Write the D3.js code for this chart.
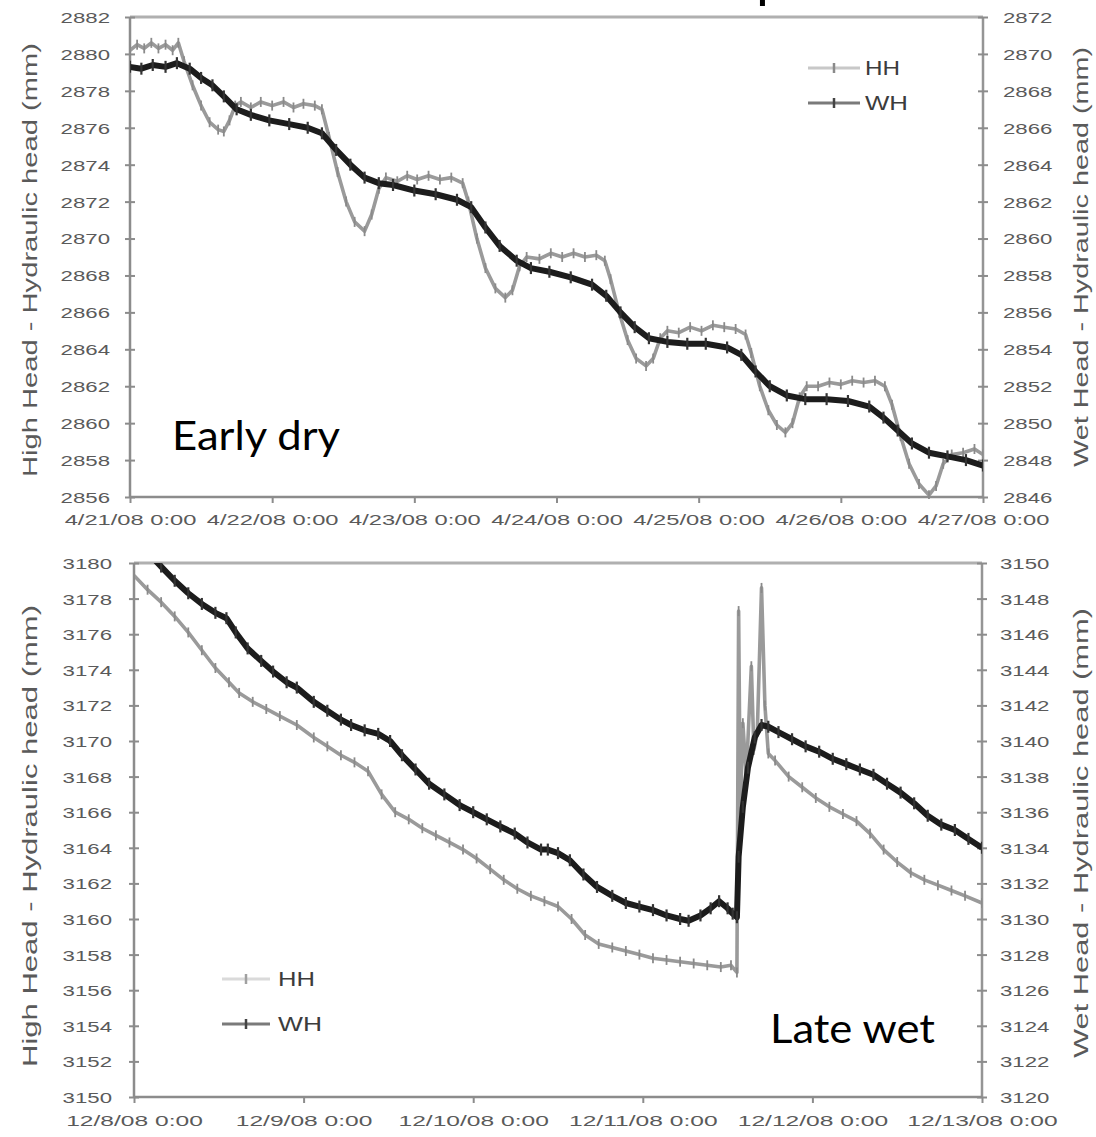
<!DOCTYPE html>
<html><head><meta charset="utf-8">
<script src="https://cdn.jsdelivr.net/npm/d3@7"></script>
<style>body{margin:0;background:#fff}svg{display:block}</style>
</head><body>
<svg id="chart" width="1096" height="1137"></svg>
<script>
// ---------- DATA (days since panel start, value) ----------
const earlyStart = [2008, 3, 21];   // 4/21/08
const lateStart = [2008, 11, 8];    // 12/8/08
const earlyDayTicks = [0, 1, 2, 3, 4, 5, 6];
const lateDayTicks = [0, 1, 2, 3, 4, 5];
const earlyLeftTicks = [2856, 2858, 2860, 2862, 2864, 2866, 2868, 2870, 2872, 2874, 2876, 2878, 2880, 2882];
const earlyRightTicks = [2846, 2848, 2850, 2852, 2854, 2856, 2858, 2860, 2862, 2864, 2866, 2868, 2870, 2872];
const lateLeftTicks = [3150, 3152, 3154, 3156, 3158, 3160, 3162, 3164, 3166, 3168, 3170, 3172, 3174, 3176, 3178, 3180];
const lateRightTicks = [3120, 3122, 3124, 3126, 3128, 3130, 3132, 3134, 3136, 3138, 3140, 3142, 3144, 3146, 3148, 3150];
const seriesNames = ["HH", "WH"];
const panelLabels = ["Early dry", "Late wet"];
const leftTitle = "High Head - Hydraulic head (mm)";
const rightTitle = "Wet Head - Hydraulic head (mm)";

const hhEarly = [[0,2880.2],[0.05,2880.5],[0.10,2880.3],[0.15,2880.6],[0.20,2880.3],[0.25,2880.5],[0.30,2880.2],[0.34,2880.6],
[0.38,2879.6],[0.44,2878.3],[0.50,2877.2],[0.56,2876.3],[0.62,2875.9],[0.66,2875.8],[0.70,2876.4],[0.74,2877.2],[0.78,2877.4],
[0.85,2877.1],[0.92,2877.4],[1.00,2877.2],[1.08,2877.4],[1.15,2877.1],[1.22,2877.3],[1.30,2877.2],[1.35,2877.0],
[1.40,2875.5],[1.46,2873.6],[1.52,2872.0],[1.58,2870.9],[1.65,2870.4],[1.70,2871.3],[1.75,2872.7],[1.80,2873.3],
[1.88,2873.1],[1.95,2873.4],[2.02,2873.2],[2.10,2873.4],[2.18,2873.2],[2.26,2873.3],[2.34,2873.0],
[2.38,2872.0],[2.44,2870.0],[2.50,2868.4],[2.57,2867.3],[2.64,2866.8],[2.69,2867.2],[2.74,2868.5],[2.79,2869.0],
[2.88,2868.9],[2.96,2869.2],[3.04,2869.0],[3.12,2869.2],[3.20,2869.0],[3.28,2869.1],[3.34,2868.8],
[3.38,2867.8],[3.44,2866.0],[3.50,2864.5],[3.56,2863.5],[3.63,2863.1],[3.68,2863.5],[3.73,2864.6],[3.78,2865.0],
[3.86,2864.9],[3.94,2865.2],[4.02,2865.0],[4.10,2865.3],[4.18,2865.2],[4.26,2865.1],[4.33,2864.8],
[4.37,2863.8],[4.43,2862.0],[4.49,2860.7],[4.55,2859.9],[4.61,2859.5],[4.66,2860.0],[4.71,2861.4],[4.76,2862.0],
[4.84,2862.0],[4.92,2862.2],[5.00,2862.1],[5.08,2862.3],[5.16,2862.2],[5.24,2862.3],[5.31,2862.0],
[5.36,2861.0],[5.42,2859.3],[5.48,2857.8],[5.55,2856.7],[5.62,2856.1],[5.67,2856.6],[5.72,2857.8],[5.78,2858.3],
[5.86,2858.4],[5.94,2858.6],[6.00,2858.3]];

const whEarly = [[0.00,2869.3],[0.08,2869.2],[0.16,2869.4],[0.25,2869.3],[0.33,2869.5],[0.42,2869.2],[0.50,2868.7],[0.58,2868.3],
[0.66,2867.7],[0.75,2867.0],[0.85,2866.7],[0.98,2866.4],[1.12,2866.2],[1.25,2866.0],[1.35,2865.7],[1.45,2864.8],[1.55,2864.0],
[1.65,2863.3],[1.75,2863.0],[1.85,2862.9],[2.00,2862.6],[2.15,2862.4],[2.30,2862.1],[2.40,2861.7],[2.50,2860.6],[2.60,2859.6],
[2.72,2858.8],[2.82,2858.4],[2.95,2858.2],[3.10,2857.9],[3.25,2857.5],[3.35,2856.9],[3.45,2856.0],[3.55,2855.2],[3.65,2854.6],
[3.78,2854.4],[3.92,2854.3],[4.05,2854.3],[4.20,2854.1],[4.30,2853.7],[4.40,2852.8],[4.50,2852.0],[4.62,2851.5],[4.75,2851.3],
[4.90,2851.3],[5.05,2851.2],[5.20,2850.9],[5.30,2850.3],[5.40,2849.6],[5.50,2848.9],[5.62,2848.4],[5.75,2848.2],[5.88,2848.0],
[6.00,2847.7]];

const hhLate = [[0.00,3179.3],[0.08,3178.5],[0.16,3177.8],[0.24,3177.0],[0.32,3176.1],[0.40,3175.1],[0.48,3174.1],[0.56,3173.3],
[0.62,3172.7],[0.70,3172.2],[0.78,3171.8],[0.86,3171.4],[0.96,3170.9],[1.06,3170.2],[1.14,3169.7],[1.22,3169.2],[1.30,3168.8],
[1.38,3168.3],[1.46,3167.0],[1.54,3166.0],[1.62,3165.6],[1.70,3165.1],[1.78,3164.7],[1.86,3164.3],[1.94,3163.9],[2.02,3163.4],
[2.10,3162.8],[2.18,3162.2],[2.26,3161.7],[2.34,3161.3],[2.42,3161.0],[2.50,3160.7],[2.58,3160.0],[2.66,3159.1],[2.74,3158.6],
[2.82,3158.4],[2.90,3158.2],[2.98,3158.0],[3.06,3157.8],[3.14,3157.7],[3.22,3157.6],[3.30,3157.5],[3.38,3157.4],[3.46,3157.3],
[3.52,3157.4],[3.555,3157.0],[3.565,3177.3],[3.575,3166.0],[3.59,3171.0],[3.61,3168.0],[3.64,3174.2],[3.655,3169.5],[3.675,3170.5],
[3.70,3178.6],[3.72,3172.0],[3.74,3169.3],[3.78,3168.9],[3.86,3168.0],[3.94,3167.4],[4.02,3166.8],[4.10,3166.3],[4.18,3165.9],
[4.26,3165.5],[4.34,3164.8],[4.42,3163.9],[4.50,3163.2],[4.58,3162.6],[4.66,3162.2],[4.74,3161.9],[4.82,3161.6],[4.90,3161.3],
[5.00,3160.9]];

const whLate = [[0.00,3151.4],[0.08,3150.6],[0.16,3149.8],[0.24,3149.0],[0.32,3148.3],[0.40,3147.7],[0.48,3147.2],[0.545,3146.9],
[0.60,3146.1],[0.67,3145.2],[0.75,3144.5],[0.82,3143.9],[0.90,3143.3],[0.96,3143.0],[1.06,3142.2],[1.14,3141.7],[1.22,3141.2],
[1.28,3140.9],[1.36,3140.6],[1.44,3140.4],[1.51,3140.0],[1.58,3139.2],[1.66,3138.4],[1.74,3137.6],[1.83,3137.0],[1.92,3136.4],
[2.00,3136.0],[2.08,3135.6],[2.16,3135.2],[2.245,3134.8],[2.32,3134.3],[2.40,3133.9],[2.44,3133.9],[2.50,3133.7],[2.57,3133.3],
[2.65,3132.5],[2.73,3131.8],[2.82,3131.3],[2.90,3130.9],[2.98,3130.7],[3.06,3130.5],[3.14,3130.2],[3.22,3130.0],[3.27,3129.9],
[3.34,3130.2],[3.40,3130.6],[3.45,3131.0],[3.50,3130.6],[3.53,3130.3],[3.555,3130.1],[3.565,3133.5],[3.59,3136.3],[3.62,3138.5],
[3.66,3140.2],[3.70,3140.9],[3.74,3140.8],[3.80,3140.5],[3.88,3140.1],[3.96,3139.7],[4.04,3139.4],[4.12,3139.0],[4.20,3138.7],
[4.28,3138.4],[4.36,3138.1],[4.44,3137.6],[4.52,3137.1],[4.60,3136.5],[4.68,3135.8],[4.76,3135.3],[4.84,3135.0],[4.92,3134.5],
[5.00,3134.0]];

// ---------- DRAWING ----------
const svg = d3.select("#chart");
const FONT = "'Liberation Sans', Arial, sans-serif";
const fmt = d3.timeFormat("%-m/%-d/%y %-H:%M");

// cut-off title fragment at the very top (only the descender is visible)
svg.append("text").attr("x", 756).attr("y", -4)
  .attr("font-family", "Lato, 'Open Sans', sans-serif")
  .attr("font-size", 56).attr("fill", "#000").text("p");

function drawPanel(p) {
  const start = new Date(p.start[0], p.start[1], p.start[2]);
  const toDate = d => new Date(start.getTime() + d * 864e5);
  const x = d3.scaleTime().domain([start, toDate(p.dayTicks[p.dayTicks.length - 1])]).range([p.L, p.R]);
  const yL = d3.scaleLinear().domain([p.leftTicks[0], p.leftTicks[p.leftTicks.length - 1]]).range([p.B, p.T]);
  const yR = d3.scaleLinear().domain([p.rightTicks[0], p.rightTicks[p.rightTicks.length - 1]]).range([p.B, p.T]);

  const g = svg.append("g");
  const clipId = "clip" + p.id;
  g.append("clipPath").attr("id", clipId).append("rect")
    .attr("x", p.L).attr("y", p.T).attr("width", p.R - p.L).attr("height", p.B - p.T + 2);

  // frame
  g.append("line").attr("x1", p.L).attr("x2", p.R).attr("y1", p.T).attr("y2", p.T).attr("stroke", "#b0b0b0").attr("stroke-width", 3);
  g.append("line").attr("x1", p.R).attr("x2", p.R).attr("y1", p.T).attr("y2", p.B).attr("stroke", "#959595").attr("stroke-width", 2.5);
  g.append("line").attr("x1", p.L).attr("x2", p.L).attr("y1", p.T).attr("y2", p.B).attr("stroke", "#8c8c8c").attr("stroke-width", 2.5);
  g.append("line").attr("x1", p.L).attr("x2", p.R).attr("y1", p.B).attr("y2", p.B).attr("stroke", "#8c8c8c").attr("stroke-width", 2.5);

  // y axes
  function yAxis(scale, ticks, side, gap) {
    const ax = (side === "left" ? d3.axisLeft(scale) : d3.axisRight(scale))
      .tickValues(ticks).tickSize(0).tickPadding(0).tickFormat(d3.format("d"));
    const ag = g.append("g").attr("transform", `translate(${side === "left" ? p.L : p.R},0)`).call(ax);
    ag.select(".domain").remove();
    ag.selectAll(".tick line").attr("x1", -5).attr("x2", 5).attr("stroke", "#8c8c8c").attr("stroke-width", 2);
    ag.selectAll(".tick text").attr("x", 0).attr("dy", "0.36em")
      .attr("font-family", FONT).attr("font-size", 15).attr("fill", "#5a5a5a")
      .attr("text-anchor", side === "left" ? "end" : "start")
      .attr("transform", `translate(${side === "left" ? -gap : gap},0) scale(1.48,1)`);
  }
  yAxis(yL, p.leftTicks, "left", p.gapL);
  yAxis(yR, p.rightTicks, "right", p.gapR);

  // x axis
  const xa = d3.axisBottom(x).tickValues(p.dayTicks.map(toDate)).tickSize(6).tickFormat(fmt);
  const xg = g.append("g").attr("transform", `translate(0,${p.B})`).call(xa);
  xg.select(".domain").remove();
  xg.selectAll(".tick line").attr("stroke", "#8c8c8c").attr("stroke-width", 2);
  xg.selectAll(".tick text").attr("y", p.xLabelY).attr("dy", "0.71em")
    .attr("font-family", FONT).attr("font-size", 15).attr("fill", "#5a5a5a")
    .attr("transform", `scale(${p.xStretch},1)`);

  // axis titles
  g.append("text").attr("transform", `translate(${p.ltX},${p.ltY}) rotate(-90)`)
    .attr("text-anchor", "middle").attr("dy", "0.35em")
    .attr("font-family", FONT).attr("font-size", 21).attr("fill", "#5a5a5a")
    .attr("textLength", p.ltLen).attr("lengthAdjust", "spacingAndGlyphs").text(leftTitle);
  g.append("text").attr("transform", `translate(${p.rtX},${p.rtY}) rotate(-90)`)
    .attr("text-anchor", "middle").attr("dy", "0.35em")
    .attr("font-family", FONT).attr("font-size", 21).attr("fill", "#5a5a5a")
    .attr("textLength", p.rtLen).attr("lengthAdjust", "spacingAndGlyphs").text(rightTitle);

  // series
  const plot = g.append("g").attr("clip-path", `url(#${clipId})`);
  const lineL = d3.line().x(d => x(toDate(d[0]))).y(d => yL(d[1]));
  const lineR = d3.line().x(d => x(toDate(d[0]))).y(d => yR(d[1]));
  plot.append("path").datum(p.hh).attr("d", lineL).attr("fill", "none")
    .attr("stroke", "#9a9a9a").attr("stroke-width", 3.6).attr("stroke-linejoin", "round");
  plot.selectAll(".mhh").data(p.hh).join("line")
    .attr("x1", d => x(toDate(d[0]))).attr("x2", d => x(toDate(d[0])))
    .attr("y1", d => yL(d[1]) - 5).attr("y2", d => yL(d[1]) + 5)
    .attr("stroke", "#8a8a8a").attr("stroke-width", 1.8);
  plot.append("path").datum(p.wh).attr("d", lineR).attr("fill", "none")
    .attr("stroke", "#1c1c1c").attr("stroke-width", 6).attr("stroke-linejoin", "round");
  plot.selectAll(".mwh").data(p.wh).join("line")
    .attr("x1", d => x(toDate(d[0]))).attr("x2", d => x(toDate(d[0])))
    .attr("y1", d => yR(d[1]) - 6).attr("y2", d => yR(d[1]) + 6)
    .attr("stroke", "#333").attr("stroke-width", 2.2);

  // legend
  p.legend.forEach((lg, i) => {
    const ly = lg.y;
    g.append("line").attr("x1", lg.x1).attr("x2", lg.x2).attr("y1", ly).attr("y2", ly)
      .attr("stroke", lg.color).attr("stroke-width", 3);
    const mx = (lg.x1 + lg.x2) / 2;
    g.append("line").attr("x1", mx).attr("x2", mx).attr("y1", ly - 5).attr("y2", ly + 5)
      .attr("stroke", lg.mcolor).attr("stroke-width", 2.5);
    g.append("text").attr("x", lg.tx).attr("y", ly).attr("dy", "0.36em")
      .attr("font-family", FONT).attr("font-size", 20).attr("fill", "#3c3c3c")
      .attr("textLength", lg.tw).attr("lengthAdjust", "spacingAndGlyphs").text(seriesNames[i]);
  });

  // panel label
  g.append("text").attr("x", p.labX).attr("y", p.labY)
    .attr("font-family", "Lato, 'Open Sans', sans-serif").attr("font-size", 40).attr("fill", "#000")
    .attr("textLength", p.labW).attr("lengthAdjust", "spacingAndGlyphs").text(p.label);
}

drawPanel({
  id: "early", start: earlyStart, dayTicks: earlyDayTicks,
  leftTicks: earlyLeftTicks, rightTicks: earlyRightTicks,
  L: 130, R: 983, T: 17, B: 497, gapL: 20, gapR: 20, xLabelY: 17, xStretch: 1.58,
  ltX: 30, ltY: 260, ltLen: 434, rtX: 1081, rtY: 257, rtLen: 420,
  hh: hhEarly, wh: whEarly,
  legend: [
    { x1: 808, x2: 860, y: 68, color: "#c8c8c8", mcolor: "#8a8a8a", tx: 865, tw: 35 },
    { x1: 808, x2: 860, y: 103, color: "#7a7a7a", mcolor: "#444", tx: 865, tw: 43 }
  ],
  label: panelLabels[0], labX: 172, labY: 450, labW: 168
});

drawPanel({
  id: "late", start: lateStart, dayTicks: lateDayTicks,
  leftTicks: lateLeftTicks, rightTicks: lateRightTicks,
  L: 134, R: 982, T: 563, B: 1097, gapL: 22, gapR: 18, xLabelY: 18, xStretch: 1.64,
  ltX: 30, ltY: 836, ltLen: 462, rtX: 1081, rtY: 833, rtLen: 450,
  hh: hhLate, wh: whLate,
  legend: [
    { x1: 222, x2: 270, y: 979, color: "#dadada", mcolor: "#a0a0a0", tx: 278, tw: 37 },
    { x1: 222, x2: 270, y: 1024, color: "#7a7a7a", mcolor: "#444", tx: 278, tw: 44 }
  ],
  label: panelLabels[1], labX: 770, labY: 1043, labW: 165
});
</script>
</body></html>
